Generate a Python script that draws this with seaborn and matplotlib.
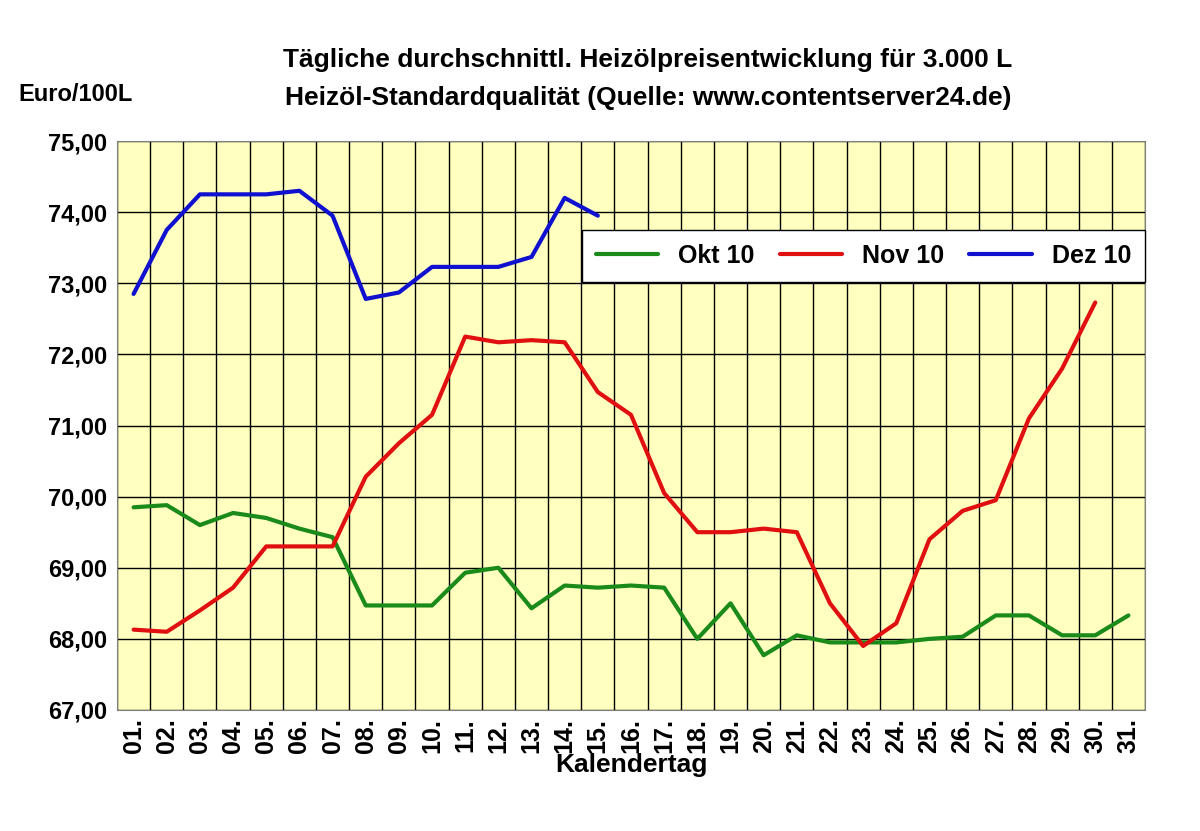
import matplotlib
matplotlib.use("Agg")
import matplotlib.pyplot as plt
import seaborn as sns
import pandas as pd
import numpy as np

days = [f"{d:02d}." for d in range(1, 32)]
okt = [69.85, 69.88, 69.6, 69.77, 69.7, 69.55, 69.43, 68.47, 68.47, 68.47, 68.93, 69.0, 68.43, 68.75, 68.72,
       68.75, 68.72, 68.0, 68.5, 67.77, 68.05, 67.95, 67.95, 67.95, 68.0, 68.03, 68.33, 68.33, 68.05, 68.05, 68.33]
nov = [68.13, 68.1, 68.4, 68.72, 69.3, 69.3, 69.3, 70.28, 70.75, 71.15, 72.25, 72.17, 72.2, 72.17, 71.47,
       71.15, 70.05, 69.5, 69.5, 69.55, 69.5, 68.5, 67.9, 68.22, 69.4, 69.8, 69.95, 71.1, 71.8, 72.73]
dez = [72.85, 73.75, 74.25, 74.25, 74.25, 74.3, 73.95, 72.78, 72.87, 73.23, 73.23, 73.23, 73.37, 74.2, 73.95]
series = ["Okt 10", "Nov 10", "Dez 10"]
colors = ["#1a8a1a", "#e01010", "#1010d0"]

rows = []
for name, vals in zip(series, [okt, nov, dez]):
    for i, v in enumerate(vals):
        rows.append({"idx": i, "val": v, "Serie": name})
df = pd.DataFrame(rows)

sns.set_style("white")
plt.rcParams['font.family'] = ['Liberation Sans', 'DejaVu Sans']
plt.rcParams['font.weight'] = 'bold'
plt.rcParams['text.color'] = 'black'
plt.rcParams['xtick.color'] = 'black'
plt.rcParams['ytick.color'] = 'black'

fig = plt.figure(figsize=(12, 8.31), dpi=100)
fig.patch.set_facecolor("white")
ax = fig.add_axes([117/1200, 1-710/831, (1145-117)/1200, (710-141)/831])
ax.set_facecolor("#FFFFC0")
sns.lineplot(data=df, x="idx", y="val", hue="Serie", palette=colors, linewidth=3, ax=ax)
ax.set_xlim(-0.5, 30.5)
ax.set_ylim(67, 75)
ax.set_xticks(range(31))
ax.set_xticklabels(days, rotation=90, fontsize=18, fontweight='bold')
ax.set_xticks(np.arange(-0.5, 31, 1), minor=True)
ax.tick_params(axis='x', which='minor', length=5, color='black')
ax.tick_params(axis='x', which='major', length=0, pad=6)
ax.set_yticks(range(67, 76))
ax.set_yticklabels([f"{v},00" for v in range(67, 76)], fontsize=17, fontweight='bold')
ax.grid(True, which='minor', axis='x', color='black', linewidth=1)
ax.grid(True, which='major', axis='y', color='black', linewidth=1)
for s in ax.spines.values():
    s.set_color('#808080')
ax.set_xlabel("Kalendertag", fontsize=19, fontweight='bold', labelpad=0, color='black')
ax.set_ylabel("")
leg = ax.legend(loc='upper right', bbox_to_anchor=(1.012, 0.865), ncol=3, fontsize=18, frameon=True,
                fancybox=False, edgecolor='black', framealpha=1, handlelength=2.5, columnspacing=1.0,
                borderpad=0.55)
for t in leg.get_texts():
    t.set_fontweight('bold')
fig.text(0.54, 0.905, "Tägliche durchschnittl. Heizölpreisentwicklung für 3.000 L\nHeizöl-Standardqualität (Quelle: www.contentserver24.de)",
         ha='center', va='center', fontsize=19, fontweight='bold', linespacing=1.75)
fig.text(0.015, 0.878, "Euro/100L", fontsize=17, fontweight='bold')
fig.savefig("out.png", dpi=100, facecolor="white")
